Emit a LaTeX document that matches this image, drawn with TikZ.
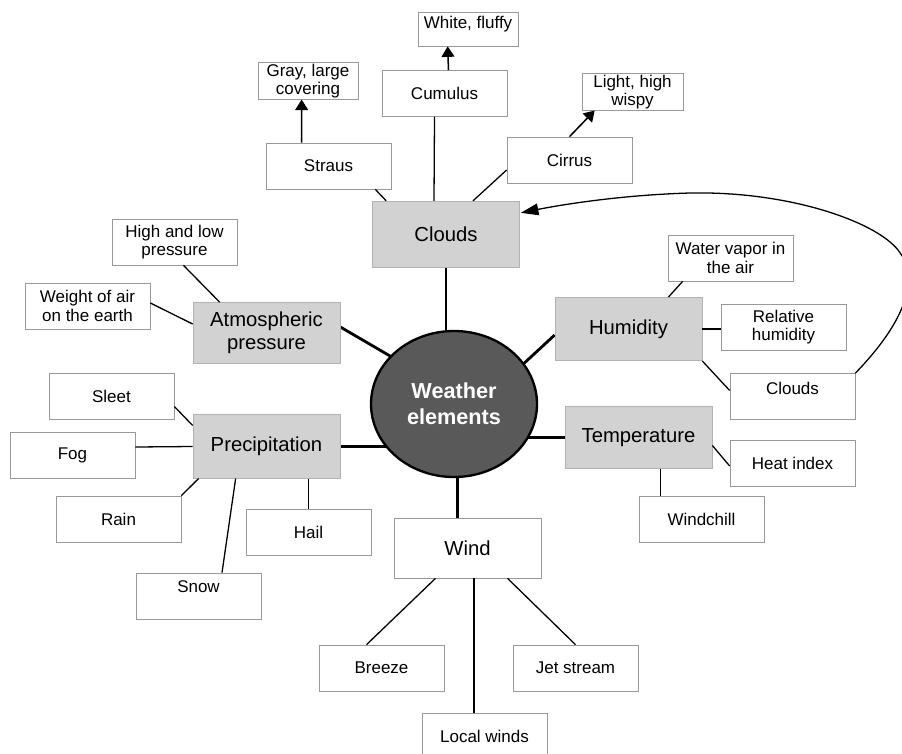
\documentclass[tikz,border=0pt]{standalone}
\usepackage{fontspec}
\setmainfont{Liberation Sans}
\usetikzlibrary{arrows.meta,calc,backgrounds,shapes.geometric}

\begin{document}
\begin{tikzpicture}[x=0.03cm,y=-0.03cm,
    box/.style={draw=gray!80,line width=0.6pt,fill=white,minimum width=3.75cm,minimum height=1.38cm,align=center,font=\fontsize{14.5}{15.5}\selectfont},
    smallbox/.style={box,minimum width=3cm,minimum height=1.02cm,inner sep=1pt},
    topic/.style={draw=gray!60,line width=0.6pt,fill=gray!35,minimum width=4.41cm,minimum height=1.9cm,align=center,font=\fontsize{17.3}{20}\selectfont},
    core/.style={ellipse,draw=black,line width=2pt,fill=black!65,text=white,minimum width=4.98cm,minimum height=4.38cm,align=center,font=\bfseries\fontsize{18.5}{22}\selectfont},
    link/.style={line width=1.1pt},
    spoke/.style={line width=2.4pt},
    arr/.style={line width=1.3pt,-{Triangle[length=9pt,width=11pt]}}]
    \useasboundingbox (0,0) rectangle (902,753);
    \clip (0,0) rectangle (902,753);

    \node [smallbox,text height=0.48cm,text depth=0.54cm,inner ysep=0pt] (fluffy) at (468,29) {White, fluffy};
    \node [smallbox] (cover) at (308,81) {Gray, large\\covering};
    \node [box] (cumulus) at (444.5,93.5) {Cumulus};
    \node [smallbox,minimum width=3.03cm] (wispy) at (632.5,92) {Light, high\\wispy};
    \node [box] (straus) at (328.5,166) {Straus};
    \node [box] (cirrus) at (569.5,160) {Cirrus};
    \node [topic,minimum height=2cm] (clouds) at (446,234.5) {Clouds};

    \node [core] (core) at (454,404) {Weather\\elements};

    \node [topic,minimum height=1.83cm] (atmos) at (266.5,333) {Atmospheric\\pressure};
    \node [box] (highlow) at (174.5,242) {High and low\\pressure};
    \node [box] (weight) at (87.5,306) {Weight of air\\on the earth};

    \node [topic] (humid) at (628.5,329) {Humidity};
    \node [box] (vapor) at (730.5,258) {Water vapor in\\the air};
    \node [box] (relhum) at (783.5,327) {Relative\\humidity};
    \node [box,text height=0.63cm,text depth=0.75cm,inner ysep=0pt] (hcloud) at (792.5,396.5) {Clouds};

    \node [topic,minimum height=1.86cm] (temp) at (638.5,437.5) {Temperature};
    \node [box] (heat) at (792.5,463) {Heat index};
    \node [box] (chill) at (701.5,519) {Windchill};

    \node [topic] (precip) at (266.5,446.5) {Precipitation};
    \node [box] (sleet) at (111.5,396.5) {Sleet};
    \node [box] (fog) at (72.5,455) {Fog};
    \node [box] (rain) at (118.5,519) {Rain};
    \node [box,text height=0.57cm,text depth=0.81cm,inner ysep=0pt] (snow) at (198.5,596) {Snow};
    \node [box] (hail) at (308.5,532) {Hail};

    \node [topic,fill=white,draw=gray!80,minimum height=1.8cm] (wind) at (467.5,548) {Wind};
    \node [box] (breeze) at (381.5,668) {Breeze};
    \node [box] (jet) at (575.5,668) {Jet stream};
    \node [box] (local) at (484.5,736) {Local winds};

    \begin{pgfonlayer}{background}
    \draw [spoke] (clouds.south) -- (clouds.south |- core.center);
    \draw [spoke] ($(atmos.east)+(0,-6)$) -- ++(60,35);
    \draw [spoke] ($(humid.west)+(0,6)$) -- ++(-40,37);
    \draw [spoke] (temp.west) -- (temp.west -| core.center);
    \draw [spoke] (precip.east) -- (precip.east -| core.center);
    \draw [spoke] ($(wind.north)+(-10,0)$) -- ++(0,-80);
    \end{pgfonlayer}

    \draw [link] ($(straus.south east)+(-16,0)$) -- ($(clouds.north west)+(14,0)$);
    \draw [link] ($(cumulus.south)+(-10,0)$) -- ($(clouds.north)+(-12,0)$);
    \draw [link] ($(cirrus.west)+(0,10)$) -- ($(clouds.north)+(27,0)$);
    \draw [arr] ($(straus.north west)+(36,0)$) -- ($(cover.south west)+(44,0)$);
    \draw [arr] ($(cumulus.north)+(4,0)$) -- ($(fluffy.south west)+(30,0)$);
    \draw [arr] (cirrus.north) -- ($(wispy.south west)+(13,0)$);

    \draw [link] ($(highlow.south)+(9,0)$) -- ($(atmos.north west)+(27,0)$);
    \draw [link] ($(weight.east)+(0,-3)$) -- ($(atmos.west)+(0,-9)$);

    \draw [link] ($(vapor.south west)+(15,0)$) -- ($(humid.north)+(40,0)$);
    \draw [link] (humid.east) -- (humid.east -| relhum.west);
    \draw [link] (humid.south east) -- ($(hcloud.west)+(0,-6)$);
    \draw [line width=1.1pt,-{Triangle[length=15pt,width=10pt]}] (hcloud.north east) .. controls (902,325) and (922,280) .. (898,250)
        .. controls (876,222) and (790,191) .. (690,193)
        .. controls (620,195) and (560,205) .. ($(clouds.north east)+(1,12)$);

    \draw [link] ($(temp.east)+(0,8)$) -- ($(heat.west)+(0,3)$);
    \draw [link] ($(temp.south)+(22,0)$) coordinate (t) -- (t |- chill.north);

    \draw [link] ($(sleet.east)+(0,10)$) -- ($(precip.north west)+(0,11)$);
    \draw [link] ($(fog.east)+(0,-8)$) -- (precip.west);
    \draw [link] (rain.north east) -- ($(precip.south west)+(6,0)$);
    \draw [link] ($(snow.north)+(23.5,0)$) -- ($(precip.south west)+(43,0)$);
    \draw [link] (hail.north) -- (hail.north |- precip.south);

    \draw [link] ($(wind.south)+(-32,0)$) -- ($(breeze.north)+(-15,0)$);
    \draw [link] ($(wind.south)+(6.5,0)$) coordinate (w) -- (w |- local.north);
    \draw [link] ($(wind.south)+(40,0)$) -- (jet.north);
\end{tikzpicture}
\end{document}
